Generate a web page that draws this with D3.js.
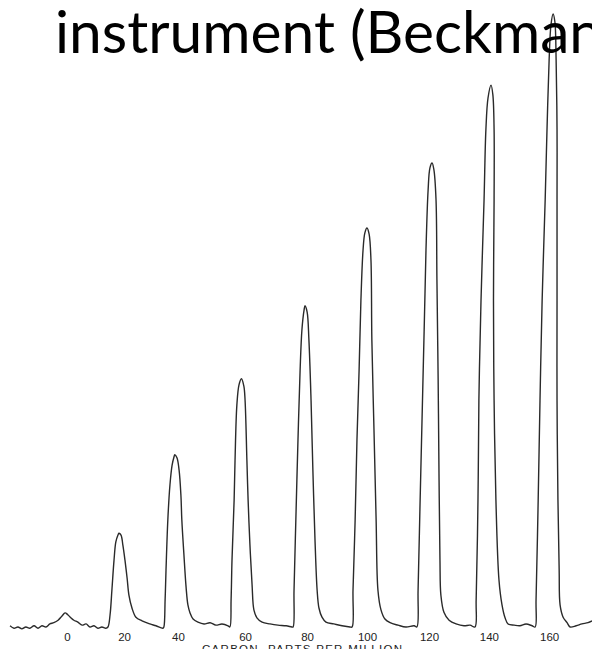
<!DOCTYPE html>
<html><head><meta charset="utf-8">
<script src="https://cdn.jsdelivr.net/npm/d3@7"></script>
<style>html,body{margin:0;padding:0;background:#fff;overflow:hidden}</style>
</head><body>
<svg id="c" width="592" height="649"></svg>
<script>
// ---- data (x: carbon, ppm position along chart; y: recorder response, % of full scale) ----
const titleText = "instrument (Beckman";
const axisTitle = "CARBON, PARTS PER MILLION";
const tickLabels = ["0","20","40","60","80","100","120","140","160"];
const tickAt = [1.3, 20.1, 37.8, 59.9, 80.3, 100, 120.4, 140.1, 159.9];

const base0 = [[-17.4,0.2],[-16.1,-0.2],[-14.8,0],[-13.5,-0.3],[-12.2,0],[-10.9,-0.2],[-9.5,0.2],[-8.2,-0.2],[-6.9,0.2],[-5.6,0],[-4.3,0.5],[-3.0,0.7],[-1.6,1.1],[-0.3,1.8],[0.7,2.3],[1.6,2.0],[2.6,1.5],[3.6,1.1],[4.9,0.8],[6.3,0.3],[7.6,0.5],[8.9,0],[10.2,0.2],[11.5,-0.2],[12.8,0],[14.1,-0.2],[14.8,0]];
const peak20 = [[15.5,2.0],[16.1,6.0],[16.8,10.9],[17.4,13.9],[18.1,15.0],[18.4,15.3],[19.1,15.0],[19.7,13.4],[20.4,10.9],[21.1,8.0],[21.7,5.2],[22.7,3.1],[24.0,1.6],[26.0,1.0],[28.6,0.5],[30.6,0.2],[32.9,-0.2]];
const peak40 = [[33.2,0],[33.6,4.4],[33.9,9.3],[34.5,17.5],[35.2,23.2],[35.9,26.4],[36.5,27.7],[36.8,28.1],[37.5,27.6],[38.2,25.6],[38.8,21.5],[39.1,17.5],[39.8,11.7],[40.5,6.5],[41.1,3.6],[41.8,2.3],[42.8,1.3],[44.4,0.8],[46.4,0.5],[48.4,0.7],[50.3,0.3],[52.3,0.5],[54.3,0.2],[54.9,0]];
const peak60 = [[55.3,4.4],[55.6,10.9],[56.3,20.7],[56.6,27.2],[57.2,36.2],[57.9,39.5],[58.7,40.5],[59.5,39.3],[59.9,37.0],[60.5,27.2],[60.9,20.7],[61.5,13.4],[62.2,6.9],[62.8,2.8],[63.8,1.5],[65.5,0.8],[68.1,0.5],[70.7,0.3],[73.4,0.2],[75.3,0]];
const peak80 = [[75.7,0],[76.0,6.0],[76.6,17.5],[77.3,30.5],[78.0,41.9],[78.6,48.5],[79.3,51.7],[79.6,52.4],[80.3,51.4],[80.9,46.8],[81.6,37.0],[82.2,25.6],[82.9,14.2],[83.6,6.0],[84.2,3.1],[85.2,1.6],[86.5,0.8],[89.1,0.5],[91.8,0.2],[94.4,0]];
const peak100 = [[95.1,0],[95.4,6.0],[96.1,17.5],[96.7,30.5],[97.4,41.9],[98.0,53.3],[98.7,61.5],[99.3,64.3],[100.0,65.1],[100.7,64.1],[101.3,59.9],[101.6,46.8],[102.3,32.1],[103.0,17.5],[103.6,6.0],[104.6,2.8],[105.9,1.3],[107.6,0.7],[110.2,0.3],[112.8,0],[115.5,0.2],[116.4,0]];
const peak120 = [[116.8,6.0],[117.4,19.1],[118.1,33.8],[118.8,48.5],[119.4,61.5],[120.1,71.3],[120.7,74.9],[121.4,75.7],[122.0,74.6],[122.7,69.7],[123.0,56.6],[123.4,40.3],[123.7,24.0],[124.0,10.9],[124.3,5.2],[125.3,2.4],[127.0,1.1],[129.3,0.5],[131.9,0.2],[133.9,0.3],[135.5,0]];
const peak140 = [[135.9,4.4],[136.5,20.7],[136.8,37.0],[137.5,53.3],[138.5,69.7],[139.1,81.1],[139.8,86.3],[140.8,88.4],[141.4,86.8],[141.8,81.1],[141.8,69.7],[141.6,53.3],[141.8,37.0],[142.4,20.7],[143.4,7.7],[144.4,3.6],[145.4,1.5],[146.4,0.5],[148.4,0.3],[150.3,0.2],[152.3,0.5],[154.3,0.2],[155.3,0]];
const peak160 = [[155.6,4.4],[156.3,20.7],[156.9,37.0],[157.6,53.3],[158.6,69.7],[159.2,81.1],[159.9,92.5],[160.5,98.2],[161.2,100],[161.8,98.7],[162.2,92.5],[162.5,81.1],[162.5,69.7],[162.5,53.3],[162.5,37.0],[162.8,20.7],[163.2,9.3],[163.5,3.6],[164.5,1.6],[165.8,0.7],[166.8,0],[168.8,0.2],[170.7,0.5],[172.7,0.7],[174.0,1.0]];

const trace = [].concat(base0, peak20, peak40, peak60, peak80, peak100, peak120, peak140, peak160);

// ---- drawing ----
const svg = d3.select("#c");
const x = d3.scaleLinear().domain([-20.7, 174.0]).range([0, 592]);
const y = d3.scaleLinear().domain([0, 100]).range([627, 14]);

// trace
const line = d3.line().x(d => x(d[0])).y(d => y(d[1])).curve(d3.curveCatmullRom.alpha(0.5));
svg.append("path").datum(trace)
  .attr("d", line)
  .attr("fill", "none")
  .attr("stroke", "#2a2a2a")
  .attr("stroke-width", 1.4)
  .attr("stroke-linejoin", "round");

// axis labels
const axis = d3.axisBottom(x).tickValues(tickAt)
  .tickFormat((d, i) => tickLabels[i]).tickSize(0).tickPadding(6);
const ag = svg.append("g").attr("transform", `translate(0,${y(0)})`).call(axis);
ag.select(".domain").remove();
ag.selectAll("text").attr("font-family", "'Liberation Sans', Arial, sans-serif")
  .attr("font-size", 11.5).attr("fill", "#222");

svg.append("text").text(axisTitle)
  .attr("x", 202).attr("y", 653)
  .attr("font-family", "'Liberation Sans', Arial, sans-serif")
  .attr("font-size", 11.5).attr("fill", "#222")
  .attr("textLength", 200).attr("lengthAdjust", "spacing");

// title (partially cut off like the reference)
const fam = "Lato, 'Open Sans', sans-serif";
const probe = svg.append("text").text("instrument").attr("font-family", fam).attr("font-size", 100);
const w100 = probe.node().getComputedTextLength();
probe.remove();
const fs = 100 * 280 / w100;
svg.append("text").text(titleText)
  .attr("x", 55).attr("y", 53)
  .attr("font-family", fam).attr("font-size", fs).attr("fill", "#000");
</script>
</body></html>
